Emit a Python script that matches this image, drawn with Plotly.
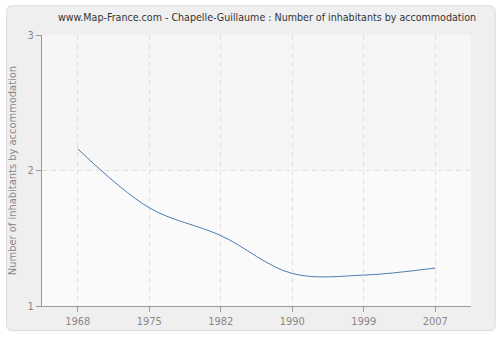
import plotly.graph_objects as go

years = ["1968", "1975", "1982", "1990", "1999", "2007"]
values = [2.16, 1.725, 1.52, 1.24, 1.228, 1.28]
y_ticks = [1, 2, 3]

W, H = 500, 340
L, R, T, B = 40.5, 29.3, 34.7, 30
pw, ph = W - L - R, H - T - B

def px2paper(x, y):
    return (x - L) / pw, (H - B - y) / ph

def rounded_path(x0, y0, x1, y1, r):
    def P(x, y):
        a, b = px2paper(x, y)
        return f"{a:.5f},{b:.5f}"
    return (f"M {P(x0 + r, y0)} L {P(x1 - r, y0)} Q {P(x1, y0)} {P(x1, y0 + r)} "
            f"L {P(x1, y1 - r)} Q {P(x1, y1)} {P(x1 - r, y1)} "
            f"L {P(x0 + r, y1)} Q {P(x0, y1)} {P(x0, y1 - r)} "
            f"L {P(x0, y0 + r)} Q {P(x0, y0)} {P(x0 + r, y0)} Z")

FONT = "DejaVu Sans Condensed, DejaVu Sans"

fig = go.Figure()
fig.add_trace(go.Scatter(
    x=list(range(len(years))), y=values, mode="lines",
    line=dict(color="#4f7cb0", width=1, shape="spline", smoothing=1),
    hoverinfo="skip", showlegend=False,
))

fig.update_layout(
    width=W, height=H,
    margin=dict(l=L, r=R, t=T, b=B),
    paper_bgcolor="white",
    plot_bgcolor="#fafafa",
    font=dict(family=FONT, size=11, color="#888888"),
    title=dict(
        text="www.Map-France.com - Chapelle-Guillaume : Number of inhabitants by accommodation",
        x=267 / W, xanchor="center", y=1 - 17 / H, yanchor="middle",
        font=dict(family=FONT, size=10.6, color="#333333"),
    ),
    shapes=[
        dict(type="path", xref="paper", yref="paper", layer="below",
             path=rounded_path(5, 5, 495, 335, 6),
             fillcolor="#efefef", line=dict(color="#dcdcdc", width=1)),
        dict(type="rect", xref="paper", yref="y", layer="below",
             x0=0, x1=1, y0=2, y1=3, fillcolor="#f6f6f6", line=dict(width=0)),
        dict(type="rect", xref="paper", yref="y", layer="below",
             x0=0, x1=1, y0=1, y1=2, fillcolor="#fafafa", line=dict(width=0)),
    ],
)
fig.update_xaxes(
    range=[-0.5, len(years) - 0.5],
    tickmode="array", tickvals=list(range(len(years))), ticktext=years,
    showline=True, linecolor="#999999", linewidth=1,
    ticks="outside", ticklen=5, tickcolor="#999999",
    showgrid=True, gridcolor="#e0e0e0", griddash="5px,4px", gridwidth=1,
    zeroline=False, fixedrange=True,
)
fig.update_yaxes(
    range=[1, 3], tickmode="array", tickvals=y_ticks,
    showline=True, linecolor="#999999", linewidth=1,
    ticks="outside", ticklen=5, tickcolor="#999999",
    showgrid=True, gridcolor="#e0e0e0", griddash="5px,4px", gridwidth=1,
    zeroline=False, fixedrange=True,
    title=dict(text="Number of inhabitants by accommodation", standoff=8,
               font=dict(size=11, color="#888888")),
)
fig.write_html("out.html", config={"displayModeBar": False})
